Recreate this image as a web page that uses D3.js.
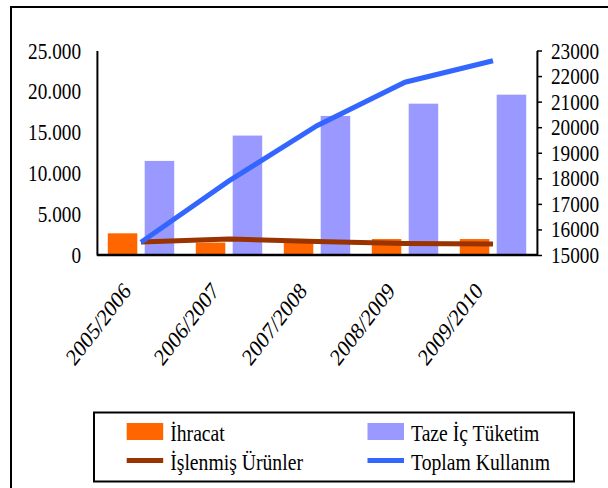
<!DOCTYPE html>
<html>
<head>
<meta charset="utf-8">
<script src="https://cdn.jsdelivr.net/npm/d3@7"></script>
<style>
  body { margin: 0; background: #fff; }
  svg { display: block; font-family: "Liberation Serif", "Times New Roman", serif; }
  path, line, rect { vector-effect: non-scaling-stroke; }
</style>
</head>
<body>
<div id="chart"></div>
<script>
// Data
const years = ["2005/2006", "2006/2007", "2007/2008", "2008/2009", "2009/2010"];
const ihracat = [2650, 1520, 1480, 1950, 1950];           // İhracat (left axis, bars)
const tazeIcTuketim = [11500, 14600, 17000, 18500, 19600]; // Taze İç Tüketim (left axis, bars)
const islenmis = [1600, 1950, 1650, 1400, 1350];           // İşlenmiş Ürünler (left axis, line)
const toplam = [15500, 17900, 20060, 21760, 22600];        // Toplam Kullanım (right axis, line)
const leftTicks = [0, 5000, 10000, 15000, 20000, 25000];
const rightTicks = [15000, 16000, 17000, 18000, 19000, 20000, 21000, 22000, 23000];

const colors = {
    ihracat: "#ff6600",
    taze: "#9999ff",
    islenmis: "#993300",
    toplam: "#3366ff"
};

// The reference picture is squeezed horizontally, so draw in a wider
// space and scale x back down
const sx = 0.82;
const ix = v => v / sx;
const serif = "'Liberation Serif', 'Times New Roman', serif";

const width = 608, height = 488;
const plot = { left: ix(97), right: ix(537), top: 50.5, bottom: 255 };

const svg = d3.select("#chart")
    .append("svg")
    .attr("width", width)
    .attr("height", height);

const root = svg.append("g")
    .attr("transform", `scale(${sx},1)`);

// Outer frame
root.append("rect")
    .attr("x", ix(11))
    .attr("y", 7)
    .attr("width", ix(700))
    .attr("height", 600)
    .attr("fill", "none")
    .attr("stroke", "#000")
    .attr("stroke-width", 2);

// Scales
const x0 = d3.scaleBand()
    .domain(years)
    .range([plot.left, plot.right])
    .paddingInner(0.245)
    .paddingOuter(0.1225);

const x1 = d3.scaleBand()
    .domain(["ihracat", "taze"])
    .range([0, x0.bandwidth()])
    .paddingInner(0.2);

const yL = d3.scaleLinear().domain([0, 25000]).range([plot.bottom, plot.top]);
const yR = d3.scaleLinear().domain([15000, 23000]).range([plot.bottom, plot.top]);

const cx = d => x0(d) + x0.bandwidth() / 2;

// Bars
const barData = years.map((y, i) => ({ year: y, ihracat: ihracat[i], taze: tazeIcTuketim[i] }));

const groups = root.append("g")
    .selectAll("g")
    .data(barData)
    .join("g")
    .attr("transform", d => `translate(${x0(d.year)},0)`);

groups.selectAll("rect")
    .data(d => ["ihracat", "taze"].map(k => ({ key: k, value: d[k] })))
    .join("rect")
    .attr("x", d => x1(d.key))
    .attr("width", x1.bandwidth())
    .attr("y", d => yL(d.value))
    .attr("height", d => plot.bottom - yL(d.value))
    .attr("fill", d => colors[d.key]);

// Lines
const lineL = d3.line()
    .x((d, i) => cx(years[i]))
    .y(d => yL(d));

const lineR = d3.line()
    .x((d, i) => cx(years[i]))
    .y(d => yR(d));

root.append("path")
    .datum(islenmis)
    .attr("d", lineL)
    .attr("fill", "none")
    .attr("stroke", colors.islenmis)
    .attr("stroke-width", 5);

root.append("path")
    .datum(toplam)
    .attr("d", lineR)
    .attr("fill", "none")
    .attr("stroke", colors.toplam)
    .attr("stroke-width", 5);

// Left axis
const fmtL = d3.formatLocale({ decimal: ",", thousands: ".", grouping: [3], currency: ["", ""] }).format(",");

const axL = root.append("g")
    .attr("transform", `translate(${plot.left},0)`)
    .call(d3.axisLeft(yL).tickValues(leftTicks).tickFormat(fmtL).tickSize(0).tickPadding(ix(16)));

// Right axis
const axR = root.append("g")
    .attr("transform", `translate(${plot.right},0)`)
    .call(d3.axisRight(yR).tickValues(rightTicks).tickFormat(d3.format("d"))
        .tickSize(ix(5)).tickSizeOuter(0).tickPadding(ix(9)));

[axL, axR].forEach(ax => {
    ax.attr("font-family", serif).attr("font-size", 23.5);
    ax.selectAll("text").attr("fill", "#000");
    ax.select(".domain").attr("stroke", "#000").attr("stroke-width", 2);
    ax.selectAll(".tick line").attr("stroke", "#000").attr("stroke-width", 1.5);
});

// Bottom axis line and rotated category labels
root.append("line")
    .attr("x1", plot.left)
    .attr("x2", plot.right)
    .attr("y1", plot.bottom)
    .attr("y2", plot.bottom)
    .attr("stroke", "#000")
    .attr("stroke-width", 2.5);

root.append("g")
    .attr("font-family", serif)
    .selectAll("text")
    .data(years)
    .join("text")
    .attr("transform", d => `translate(${cx(d) - ix(9)},292) rotate(-47)`)
    .attr("text-anchor", "end")
    .attr("font-size", 24)
    .text(d => d);

// Legend
const legend = root.append("g").attr("font-family", serif);

legend.append("rect")
    .attr("x", ix(94))
    .attr("y", 412.5)
    .attr("width", ix(574) - ix(94))
    .attr("height", 69)
    .attr("fill", "#fff")
    .attr("stroke", "#000")
    .attr("stroke-width", 2);

const legendItems = [
    { label: "İhracat", color: colors.ihracat, type: "bar", x: 126.7, y: 423 },
    { label: "Taze İç Tüketim", color: colors.taze, type: "bar", x: 367.5, y: 423 },
    { label: "İşlenmiş Ürünler", color: colors.islenmis, type: "line", x: 126.7, y: 452 },
    { label: "Toplam Kullanım", color: colors.toplam, type: "line", x: 367.5, y: 452 }
];

legendItems.forEach(it => {
    if (it.type === "bar") {
        legend.append("rect")
            .attr("x", ix(it.x))
            .attr("y", it.y)
            .attr("width", ix(36.5))
            .attr("height", 17)
            .attr("fill", it.color);
    } else {
        legend.append("line")
            .attr("x1", ix(it.x))
            .attr("x2", ix(it.x + 36.5))
            .attr("y1", it.y + 8.5)
            .attr("y2", it.y + 8.5)
            .attr("stroke", it.color)
            .attr("stroke-width", 5);
    }
    legend.append("text")
        .attr("x", ix(it.x + 43.5))
        .attr("y", it.y + 18.5)
        .attr("font-size", 24)
        .text(it.label);
});
</script>
</body>
</html>
